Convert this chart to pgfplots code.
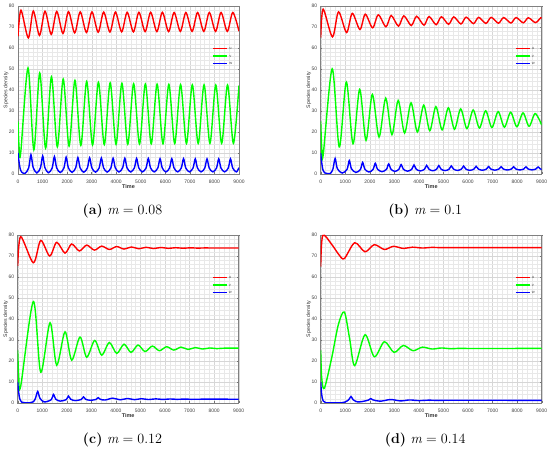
\documentclass[border=0pt]{standalone}
\usepackage{fontspec}
\usepackage{pgfplots}
\pgfplotsset{compat=1.18}
\newfontfamily\axfont{Liberation Sans}
\definecolor{ucol}{rgb}{1,0,0}
\definecolor{vcol}{rgb}{0,1,0}
\definecolor{wcol}{rgb}{0,0,1}
\newcommand{\capt}[2]{\fontsize{14.2}{16}\selectfont\textbf{(#1)} \textit{m}\hspace{0.2778em}=\hspace{0.2778em}#2}
\newcommand{\keys}{%
  \draw[ucol, line width=1.4bp] (rel axis cs:0.882,0.747) -- (rel axis cs:0.946,0.747);
  \draw[vcol, line width=1.4bp] (rel axis cs:0.882,0.702) -- (rel axis cs:0.946,0.702);
  \draw[wcol, line width=1.4bp] (rel axis cs:0.882,0.656) -- (rel axis cs:0.946,0.656);
  \node[anchor=west, inner sep=0pt, font=\axfont\fontsize{4}{4}\selectfont, text=black!70] at (rel axis cs:0.955,0.747) {u};
  \node[anchor=west, inner sep=0pt, font=\axfont\fontsize{4}{4}\selectfont, text=black!70] at (rel axis cs:0.955,0.702) {v};
  \node[anchor=west, inner sep=0pt, font=\axfont\fontsize{4}{4}\selectfont, text=black!70] at (rel axis cs:0.955,0.656) {w};
}
\pgfplotsset{
  panel/.style={
    scale only axis, width=221bp, height=168bp,
    anchor=south west,
    xmin=0, xmax=9000, ymin=0, ymax=80,
    xtick={0,1000,...,9000}, ytick={0,10,...,80},
    minor x tick num=4, minor y tick num=4,
    grid=both,
    major grid style={black!16, line width=0.3bp},
    minor grid style={black!9, line width=0.3bp},
    axis line style={black!50, line width=0.5bp},
    tick style={black!55, line width=0.4bp},
    major tick length=1.5bp, minor tick length=0pt,
    /pgf/number format/1000 sep={},
    /pgf/number format/assume math mode=true,
    tick label style={font=\axfont\fontsize{5}{6}\selectfont, text=black!75},
    xticklabel style={yshift=-2.5bp},
    xlabel={\textbf{Time}},
    xlabel style={font=\axfont\fontsize{5.5}{6}\selectfont, text=black!80, at={(axis description cs:0.5,-0.075)}, anchor=center},
    ylabel={Species density},
    ylabel style={font=\axfont\fontsize{5.2}{6}\selectfont, text=black!80, at={(axis description cs:-0.054,0.5)}, anchor=center},
  },
  ucurve/.style={draw=ucol, line width=1.4bp, smooth},
  vcurve/.style={draw=vcol, line width=1.4bp, smooth},
  wcurve/.style={draw=wcol, line width=1.4bp, smooth},
}
\begin{document}
\begin{tikzpicture}
\useasboundingbox (0,0) rectangle (550bp,451bp);
% (a) m = 0.08
\begin{axis}[panel, at={(18bp,277bp)}]
\addplot[ucurve] coordinates {(0,65.5)(120,78.0)(420,64.8)
(622,77.6)(875,66.0)(1100,77.5)(1353,66.5)(1578,77.4)(1831,66.9)(2056,77.3)(2309,67.2)(2534,77.2)(2787,67.4)(3012,77.2)(3265,67.5)(3490,77.1)(3743,67.6)(3968,77.1)(4221,67.7)(4446,77.0)(4699,67.7)(4924,77.0)(5177,67.8)(5402,77.0)(5655,67.8)(5880,77.0)(6133,67.8)(6358,76.9)(6611,67.9)(6836,76.9)(7089,67.9)(7314,76.9)(7567,67.9)(7792,76.9)(8045,67.9)(8270,76.9)(8523,67.9)(8748,76.9)(9000,68.0)};
\addplot[vcurve] coordinates {(0,25)(45,12.5)(110,10)
(407,50.5)(646,11.5)(885,48.1)(1124,12.3)(1363,46.3)(1602,12.9)(1841,45.2)(2080,13.3)(2319,44.6)(2558,13.6)(2797,44.1)(3036,13.8)(3275,43.7)(3514,14.0)(3753,43.4)(3992,14.1)(4231,43.2)(4470,14.2)(4709,43.0)(4948,14.3)(5187,42.9)(5426,14.4)(5665,42.8)(5904,14.4)(6143,42.7)(6382,14.5)(6621,42.6)(6860,14.5)(7099,42.5)(7338,14.5)(7577,42.5)(7816,14.6)(8055,42.4)(8294,14.6)(8533,42.4)(8772,14.6)(9000,42.2)};
\addplot[wcurve] coordinates {(0,10)(40,6)(90,2.5)(160,0.8)(290,0.3)
(437,2.97)(527,9.2)(617,3.11)(766,0.5)
(915,2.93)(1005,8.6)(1095,3.0)(1244,0.6)
(1393,2.91)(1483,8.3)(1573,2.98)(1722,0.7)
(1871,2.89)(1961,8.0)(2051,2.96)(2200,0.8)
(2349,2.9)(2439,7.8)(2529,2.94)(2678,0.85)
(2827,2.91)(2917,7.7)(3007,2.94)(3156,0.9)
(3305,2.91)(3395,7.6)(3485,2.92)(3634,0.92)
(3783,2.89)(3873,7.5)(3963,2.92)(4112,0.95)
(4261,2.92)(4351,7.5)(4441,2.93)(4590,0.97)
(4739,2.9)(4829,7.4)(4919,2.92)(5068,1.0)
(5217,2.92)(5307,7.4)(5397,2.92)(5546,1.0)
(5695,2.89)(5785,7.3)(5875,2.89)(6024,1.0)
(6173,2.89)(6263,7.3)(6353,2.89)(6502,1.0)
(6651,2.89)(6741,7.3)(6831,2.89)(6980,1.0)
(7129,2.86)(7219,7.2)(7309,2.86)(7458,1.0)
(7607,2.86)(7697,7.2)(7787,2.86)(7936,1.0)
(8085,2.86)(8175,7.2)(8265,2.86)(8414,1.0)
(8563,2.86)(8653,7.2)(8743,2.86)(8892,1.0)
(9000,3.0)};
\keys
\end{axis}
% (b) m = 0.1
\begin{axis}[panel, at={(320.7bp,277bp)}]
\addplot[ucurve] coordinates {(0,65)(100,78.5)(478,65.3)(726,77.2)(1054,67.4)(1286,76.5)(1598,68.8)(1815,76.1)(2113,69.6)(2345,75.8)(2657,70.1)(2871,75.5)(3165,70.4)(3386,75.3)(3688,70.7)(3906,75.1)(4205,70.9)(4412,75.0)(4700,71.1)(4914,74.9)(5208,71.3)(5419,74.8)(5710,71.45)(5924,74.7)(6219,71.6)(6433,74.6)(6727,71.7)(6942,74.6)(7237,71.8)(7451,74.5)(7745,71.9)(7957,74.5)(8249,72.0)(8456,74.4)(8744,72.1)(8960,74.4)(9000,74.3)};
\addplot[vcurve] coordinates {(0,25)(40,13)(100,9.0)
(468,50.1)(756,12.9)(1044,43.8)(1316,14.4)(1588,40.3)(1845,16.0)(2103,37.9)(2375,17.6)(2647,36.1)(2901,18.7)(3155,35.0)(3416,19.5)(3678,33.9)(3936,20.0)(4195,32.8)(4442,20.6)(4690,32.1)(4944,21.0)(5198,31.5)(5449,21.3)(5700,31.0)(5954,21.6)(6209,30.5)(6463,21.9)(6717,30.1)(6972,22.1)(7227,29.7)(7481,22.3)(7735,29.4)(7987,22.5)(8239,29.1)(8486,22.7)(8734,28.8)(9000,23.3)};
\addplot[wcurve] coordinates {(0,10)(40,5.5)(90,2.0)(170,0.5)(300,0.15)(400,0.3)
(498,2.36)(588,7.4)(678,2.54)(876,0.45)
(1074,2.24)(1164,6.4)(1254,2.45)(1436,0.75)
(1618,2.18)(1708,5.5)(1798,2.32)(1965,0.95)
(2133,2.2)(2223,5.1)(2313,2.3)(2495,1.1)
(2677,2.21)(2767,4.8)(2857,2.32)(3021,1.25)
(3185,2.23)(3275,4.5)(3365,2.3)(3536,1.35)
(3708,2.24)(3798,4.3)(3888,2.31)(4056,1.45)
(4225,2.25)(4315,4.1)(4405,2.32)(4562,1.55)
(4720,2.29)(4810,4.0)(4900,2.33)(5064,1.62)
(5228,2.29)(5318,3.85)(5408,2.35)(5569,1.7)
(5730,2.32)(5820,3.75)(5910,2.35)(6074,1.75)
(6239,2.32)(6329,3.65)(6419,2.36)(6583,1.8)
(6747,2.33)(6837,3.55)(6927,2.36)(7092,1.85)
(7257,2.35)(7347,3.5)(7437,2.38)(7601,1.9)
(7765,2.37)(7855,3.45)(7945,2.39)(8107,1.93)
(8269,2.37)(8359,3.4)(8449,2.39)(8606,1.96)
(8764,2.38)(8854,3.35)(8944,2.4)(9000,2.2)};
\keys
\end{axis}
% (c) m = 0.12
\begin{axis}[panel, at={(17.7bp,48bp)}]
\addplot[ucurve] coordinates {(0,65.3)(122,79.2)(638,66.8)(937,77.4)(1303,70.0)(1588,76.5)(1927,71.4)(2199,75.7)(2511,72.4)(2810,75.2)(3122,72.8)(3421,74.7)(3733,73.1)(4032,74.5)(4330,73.3)(4630,74.3)(4930,73.45)(5230,74.15)(5530,73.55)(5830,74.05)(6130,73.65)(6430,73.95)(6730,73.7)(7030,73.9)(7330,73.75)(7630,73.85)(8000,73.8)(9000,73.8)};
\addplot[vcurve] coordinates {(0,25)(40,13)(122,8)(638,48.3)(937,14.7)(1317,38.2)(1588,18)(1927,33.9)(2199,20.4)(2538,31.4)(2810,21.8)(3136,29.8)(3421,22.8)(3733,28.8)(4032,23.6)(4330,28)(4615,24.1)(4900,27.6)(5185,24.5)(5484,27.1)(5769,24.9)(6068,26.8)(6353,25.2)(6652,26.6)(6937,25.5)(7236,26.4)(7520,25.7)(7820,26.2)(8110,25.9)(8400,26.1)(9000,26.1)};
\addplot[wcurve] coordinates {(0,10)(40,5)(90,1.8)(170,0.4)(300,0.1)(500,0.1)(640,0.6)(725,2.3)(815,5.5)(905,2.3)(1077,0.5)(1367,1.58)(1457,4.1)(1547,1.86)(1728,0.9)(1977,1.62)(2067,3.3)(2157,1.8)(2339,1.15)(2588,1.68)(2678,2.9)(2768,1.78)(2950,1.3)(3186,1.68)(3276,2.55)(3366,1.76)(3561,1.42)(3873,2.3)(4172,1.52)(4470,2.15)(4755,1.6)(5040,2.05)(5325,1.65)(5624,1.97)(5909,1.7)(6208,1.92)(6493,1.74)(6792,1.88)(7080,1.76)(7600,1.82)(9000,1.8)};
\keys
\end{axis}
% (d) m = 0.14
\begin{axis}[panel, at={(320.7bp,48bp)}]
\addplot[ucurve] coordinates {(0,65)(81,79.7)(450,75.5)(750,70.5)(964,68.8)(1385,76.3)(1805,72)(2185,75.4)(2593,73.1)(2960,74.6)(3367,73.6)(3733,74.2)(4140,73.8)(4530,74.1)(4920,73.95)(5400,74.0)(9000,74.0)};
\addplot[vcurve] coordinates {(0,25)(40,12)(149,7)(448,21.5)(720,37.4)(964,43.3)(1180,30.5)(1385,17.8)(1805,32.5)(2185,22)(2593,29.2)(2986,24.1)(3367,27.4)(3760,24.9)(4140,26.6)(4534,25.7)(4914,26.2)(5300,25.85)(5700,26.05)(6200,25.95)(9000,26.0)};
\addplot[wcurve] coordinates {(0,10)(40,4)(100,1)(200,0.15)(500,0.05)(850,0.1)(1000,0.5)(1145,1.6)(1235,3.1)(1325,1.5)(1500,0.5)(1650,0.6)(1946,1.4)(2036,2.1)(2126,1.5)(2420,0.85)(2850,1.65)(3250,1.0)(3620,1.45)(4000,1.15)(4400,1.35)(4800,1.22)(5300,1.3)(9000,1.27)};
\keys
\end{axis}
\node[anchor=base] at (122.5bp,236.7bp) {\capt{a}{0.08}};
\node[anchor=base] at (425.2bp,236.7bp) {\capt{b}{0.1}};
\node[anchor=base] at (122.5bp,7.7bp) {\capt{c}{0.12}};
\node[anchor=base] at (425.2bp,7.7bp) {\capt{d}{0.14}};
\end{tikzpicture}
\end{document}
